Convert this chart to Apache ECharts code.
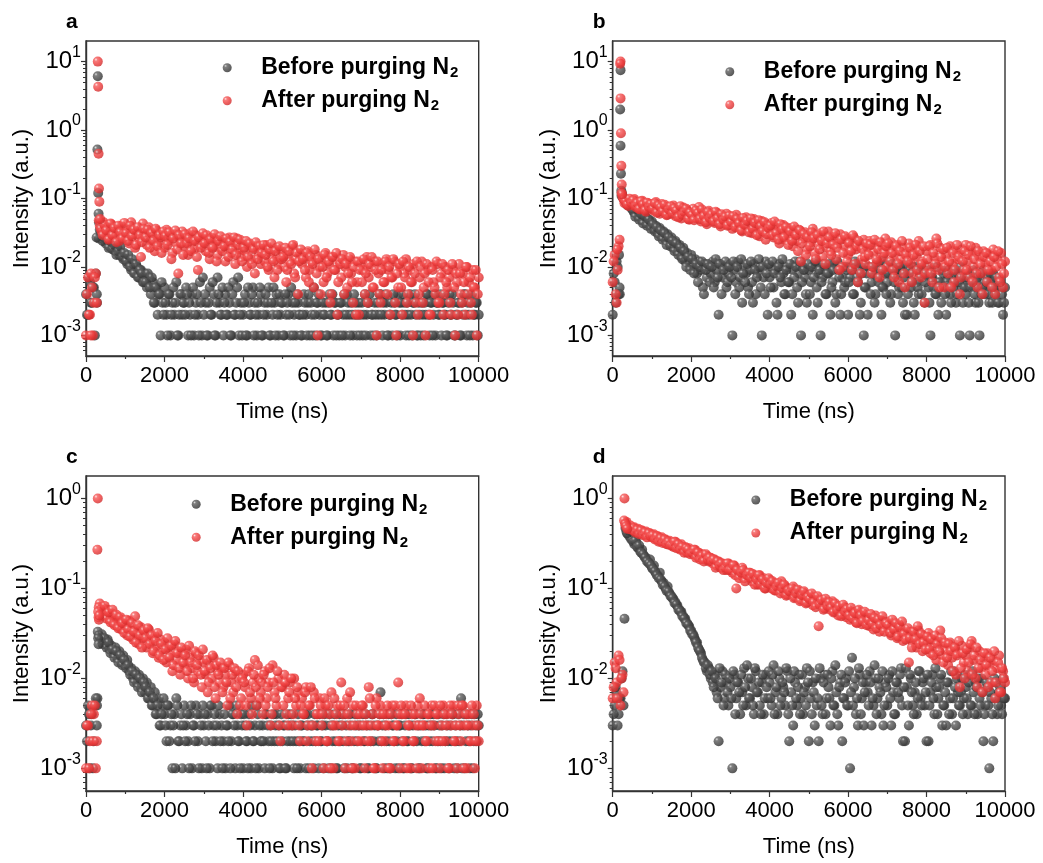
<!DOCTYPE html>
<html>
<head>
<meta charset="utf-8">
<title>PL decay before / after purging N2</title>
<style>
  html, body { margin: 0; padding: 0; background: #fff; }
  #chart { width: 1043px; height: 863px; }
</style>
</head>
<body>
<div id="chart"></div>
<script src="https://cdn.jsdelivr.net/npm/echarts@6.0.0/dist/echarts.min.js"></script>
<script>
// time channels (ns), shared by the four panels
const timeNs = [
  0, 50, 100, 150, 200, 250, 300, 350, 400, 450,
  500, 550, 600, 650, 700, 750, 800, 850, 900, 950,
  1000, 1050, 1100, 1150, 1200, 1250, 1300, 1350, 1400, 1450,
  1500, 1550, 1600, 1650, 1700, 1750, 1800, 1850, 1900, 1950,
  2000, 2050, 2100, 2150, 2200, 2250, 2300, 2350, 2400, 2450,
  2500, 2550, 2600, 2650, 2700, 2750, 2800, 2850, 2900, 2950,
  3000, 3050, 3100, 3150, 3200, 3250, 3300, 3350, 3400, 3450,
  3500, 3550, 3600, 3650, 3700, 3750, 3800, 3850, 3900, 3950,
  4000, 4050, 4100, 4150, 4200, 4250, 4300, 4350, 4400, 4450,
  4500, 4550, 4600, 4650, 4700, 4750, 4800, 4850, 4900, 4950,
  5000, 5050, 5100, 5150, 5200, 5250, 5300, 5350, 5400, 5450,
  5500, 5550, 5600, 5650, 5700, 5750, 5800, 5850, 5900, 5950,
  6000, 6050, 6100, 6150, 6200, 6250, 6300, 6350, 6400, 6450,
  6500, 6550, 6600, 6650, 6700, 6750, 6800, 6850, 6900, 6950,
  7000, 7050, 7100, 7150, 7200, 7250, 7300, 7350, 7400, 7450,
  7500, 7550, 7600, 7650, 7700, 7750, 7800, 7850, 7900, 7950,
  8000, 8050, 8100, 8150, 8200, 8250, 8300, 8350, 8400, 8450,
  8500, 8550, 8600, 8650, 8700, 8750, 8800, 8850, 8900, 8950,
  9000, 9050, 9100, 9150, 9200, 9250, 9300, 9350, 9400, 9450,
  9500, 9550, 9600, 9650, 9700, 9750, 9800, 9850, 9900, 9950,
  10000
];
// the channels in between
const timeNsMid = [
  25, 75, 125, 175, 225, 275, 325, 375, 425, 475,
  525, 575, 625, 675, 725, 775, 825, 875, 925, 975,
  1025, 1075, 1125, 1175, 1225, 1275, 1325, 1375, 1425, 1475,
  1525, 1575, 1625, 1675, 1725, 1775, 1825, 1875, 1925, 1975,
  2025, 2075, 2125, 2175, 2225, 2275, 2325, 2375, 2425, 2475,
  2525, 2575, 2625, 2675, 2725, 2775, 2825, 2875, 2925, 2975,
  3025, 3075, 3125, 3175, 3225, 3275, 3325, 3375, 3425, 3475,
  3525, 3575, 3625, 3675, 3725, 3775, 3825, 3875, 3925, 3975,
  4025, 4075, 4125, 4175, 4225, 4275, 4325, 4375, 4425, 4475,
  4525, 4575, 4625, 4675, 4725, 4775, 4825, 4875, 4925, 4975,
  5025, 5075, 5125, 5175, 5225, 5275, 5325, 5375, 5425, 5475,
  5525, 5575, 5625, 5675, 5725, 5775, 5825, 5875, 5925, 5975,
  6025, 6075, 6125, 6175, 6225, 6275, 6325, 6375, 6425, 6475,
  6525, 6575, 6625, 6675, 6725, 6775, 6825, 6875, 6925, 6975,
  7025, 7075, 7125, 7175, 7225, 7275, 7325, 7375, 7425, 7475,
  7525, 7575, 7625, 7675, 7725, 7775, 7825, 7875, 7925, 7975,
  8025, 8075, 8125, 8175, 8225, 8275, 8325, 8375, 8425, 8475,
  8525, 8575, 8625, 8675, 8725, 8775, 8825, 8875, 8925, 8975,
  9025, 9075, 9125, 9175, 9225, 9275, 9325, 9375, 9425, 9475,
  9525, 9575, 9625, 9675, 9725, 9775, 9825, 9875, 9925, 9975
];

// ---- panel a ----
const aBefore = [
  0.004, 0.002, 0.006, 0.003, 0.005, 0.008, 6.1, 0.035, 0.028, 0.030,
  0.022, 0.026, 0.020, 0.023, 0.018, 0.017, 0.019, 0.015, 0.016, 0.013,
  0.014, 0.011, 0.012, 0.009, 0.011, 0.008, 0.010, 0.007, 0.009, 0.006,
  0.008, 0.005, 0.007, 0.004, 0.006, 0.003, 0.005, 0.004, 0.001, 0.003,
  0.005, 0.002, 0.004, 0.001, 0.003, 0.002, 0.006, 0.001, 0.004, 0.002,
  0.003, 0.005, 0.001, 0.002, 0.004, 0.001, 0.003, 0.002, 0.006, 0.001,
  0.002, 0.003, 0.001, 0.005, 0.002, 0.004, 0.001, 0.007, 0.003, 0.002,
  0.001, 0.004, 0.002, 0.003, 0.001, 0.006, 0.002, 0.005, 0.001, 0.003,
  0.002, 0.004, 0.001, 0.003, 0.002, 0.005, 0.003, 0.001, 0.002, 0.004,
  0.001, 0.003, 0.002, 0.005, 0.001, 0.002, 0.003, 0.004, 0.001, 0.002,
  0.003, 0.001, 0.002, 0.004, 0.001, 0.003, 0.002, 0.001, 0.003, 0.002,
  0.001, 0.004, 0.002, 0.003, 0.001, 0.002, 0.005, 0.001, 0.003, 0.002,
  0.001, 0.002, 0.003, 0.001, 0.004, 0.002, 0.001, 0.003, 0.002, 0.001,
  0.003, 0.002, 0.001, 0.004, 0.002, 0.003, 0.001, 0.002, 0.001, 0.003,
  0.002, 0.001, 0.004, 0.002, 0.003, 0.001, 0.002, 0.003, 0.001, 0.002,
  0.004, 0.001, 0.002, 0.003, 0.001, 0.002, 0.001, 0.003, 0.002, 0.004,
  0.001, 0.002, 0.003, 0.001, 0.002, 0.004, 0.001, 0.003, 0.002, 0.001,
  0.002, 0.003, 0.001, 0.002, 0.004, 0.001, 0.003, 0.002, 0.001, 0.003,
  0.002, 0.001, 0.003, 0.002, 0.001, 0.004, 0.002, 0.003, 0.001, 0.002,
  0.003, 0.001, 0.002, 0.004, 0.001, 0.002, 0.003, 0.001, 0.002, 0.003,
  0.002
];
const aBeforeMid = [
  0.002, 0.007, 0.003, 0.005, 0.001, 0.004, 0.026, 0.032, 0.024, 0.027,
  0.025, 0.019, 0.024, 0.018, 0.021, 0.015, 0.017, 0.020, 0.014, 0.016,
  0.012, 0.015, 0.010, 0.013, 0.008, 0.011, 0.007, 0.009, 0.008, 0.006,
  0.006, 0.008, 0.005, 0.007, 0.003, 0.005, 0.002, 0.004, 0.006, 0.002,
  0.003, 0.001, 0.004, 0.002, 0.005, 0.003, 0.001, 0.002, 0.004, 0.003,
  0.002, 0.004, 0.003, 0.001, 0.005, 0.002, 0.004, 0.001, 0.003, 0.007,
  0.004, 0.001, 0.003, 0.002, 0.006, 0.001, 0.003, 0.004, 0.002, 0.005,
  0.003, 0.002, 0.005, 0.001, 0.004, 0.002, 0.003, 0.007, 0.002, 0.001,
  0.003, 0.001, 0.005, 0.002, 0.004, 0.001, 0.002, 0.003, 0.005, 0.001,
  0.002, 0.004, 0.003, 0.001, 0.003, 0.005, 0.001, 0.002, 0.004, 0.003,
  0.001, 0.004, 0.003, 0.002, 0.005, 0.001, 0.003, 0.004, 0.002, 0.001,
  0.002, 0.003, 0.001, 0.004, 0.003, 0.001, 0.002, 0.003, 0.004, 0.001,
  0.003, 0.002, 0.001, 0.003, 0.002, 0.004, 0.003, 0.001, 0.002, 0.003,
  0.001, 0.004, 0.002, 0.003, 0.001, 0.002, 0.004, 0.003, 0.002, 0.001,
  0.003, 0.002, 0.001, 0.003, 0.004, 0.002, 0.001, 0.002, 0.003, 0.004,
  0.002, 0.003, 0.004, 0.001, 0.002, 0.003, 0.004, 0.002, 0.001, 0.003,
  0.003, 0.004, 0.002, 0.003, 0.001, 0.002, 0.003, 0.004, 0.001, 0.003,
  0.001, 0.002, 0.003, 0.004, 0.002, 0.003, 0.001, 0.004, 0.003, 0.002,
  0.004, 0.003, 0.002, 0.001, 0.003, 0.002, 0.004, 0.001, 0.002, 0.003,
  0.001, 0.003, 0.004, 0.002, 0.003, 0.001, 0.004, 0.002, 0.003, 0.001
];
const aAfter = [
  0.001, 0.007, 0.002, 0.005, 0.003, 0.008, 10, 0.040, 0.033, 0.045,
  0.030, 0.038, 0.026, 0.042, 0.035, 0.028, 0.037, 0.024, 0.040, 0.031,
  0.027, 0.036, 0.022, 0.045, 0.030, 0.019, 0.033, 0.026, 0.014, 0.043,
  0.032, 0.021, 0.038, 0.025, 0.029, 0.017, 0.034, 0.023, 0.027, 0.031,
  0.019, 0.035, 0.024, 0.028, 0.016, 0.030, 0.022, 0.008, 0.026, 0.033,
  0.020, 0.027, 0.015, 0.031, 0.023, 0.018, 0.029, 0.009, 0.025, 0.021,
  0.028, 0.017, 0.024, 0.013, 0.027, 0.020, 0.026, 0.015, 0.022, 0.019,
  0.025, 0.012, 0.021, 0.027, 0.016, 0.023, 0.011, 0.026, 0.018, 0.014,
  0.022, 0.017, 0.010, 0.021, 0.013, 0.019, 0.008, 0.020, 0.015, 0.011,
  0.018, 0.012, 0.021, 0.009, 0.016, 0.013, 0.007, 0.019, 0.011, 0.014,
  0.017, 0.010, 0.006, 0.015, 0.012, 0.020, 0.008, 0.013, 0.004, 0.016,
  0.011, 0.014, 0.007, 0.017, 0.009, 0.012, 0.005, 0.015, 0.001, 0.010,
  0.013, 0.006, 0.016, 0.008, 0.011, 0.004, 0.014, 0.009, 0.002, 0.012,
  0.007, 0.015, 0.010, 0.005, 0.013, 0.008, 0.003, 0.012, 0.006, 0.002,
  0.011, 0.009, 0.004, 0.014, 0.007, 0.010, 0.005, 0.012, 0.001, 0.008,
  0.003, 0.011, 0.006, 0.013, 0.009, 0.002, 0.007, 0.012, 0.001, 0.005,
  0.010, 0.002, 0.008, 0.013, 0.004, 0.009, 0.006, 0.011, 0.003, 0.002,
  0.007, 0.012, 0.005, 0.001, 0.009, 0.002, 0.010, 0.006, 0.004, 0.011,
  0.003, 0.008, 0.002, 0.010, 0.005, 0.007, 0.002, 0.009, 0.001, 0.006,
  0.011, 0.004, 0.008, 0.002, 0.010, 0.006, 0.003, 0.009, 0.005, 0.001,
  0.007
];
const aAfterMid = [
  0.004, 0.002, 0.008, 0.001, 0.007, 0.003, 0.048, 0.036, 0.029, 0.041,
  0.034, 0.025, 0.043, 0.029, 0.037, 0.023, 0.040, 0.032, 0.026, 0.044,
  0.031, 0.024, 0.040, 0.028, 0.035, 0.021, 0.038, 0.029, 0.023, 0.036,
  0.027, 0.035, 0.019, 0.031, 0.024, 0.036, 0.020, 0.029, 0.016, 0.033,
  0.028, 0.021, 0.032, 0.013, 0.026, 0.034, 0.018, 0.029, 0.022, 0.015,
  0.030, 0.022, 0.026, 0.017, 0.033, 0.024, 0.014, 0.027, 0.019, 0.031,
  0.022, 0.029, 0.016, 0.025, 0.019, 0.030, 0.012, 0.024, 0.028, 0.017,
  0.020, 0.026, 0.014, 0.023, 0.018, 0.027, 0.015, 0.021, 0.025, 0.012,
  0.019, 0.024, 0.014, 0.022, 0.011, 0.018, 0.023, 0.013, 0.020, 0.016,
  0.021, 0.015, 0.010, 0.018, 0.022, 0.012, 0.017, 0.009, 0.020, 0.013,
  0.014, 0.019, 0.009, 0.017, 0.011, 0.021, 0.007, 0.016, 0.012, 0.018,
  0.013, 0.009, 0.016, 0.006, 0.014, 0.011, 0.018, 0.008, 0.013, 0.004,
  0.010, 0.015, 0.007, 0.012, 0.003, 0.014, 0.009, 0.016, 0.006, 0.011,
  0.013, 0.004, 0.011, 0.008, 0.014, 0.006, 0.010, 0.002, 0.012, 0.009,
  0.006, 0.013, 0.008, 0.003, 0.011, 0.014, 0.005, 0.009, 0.012, 0.004,
  0.009, 0.006, 0.012, 0.004, 0.010, 0.007, 0.013, 0.003, 0.008, 0.011,
  0.005, 0.012, 0.007, 0.003, 0.010, 0.006, 0.001, 0.008, 0.012, 0.004,
  0.010, 0.003, 0.008, 0.011, 0.006, 0.002, 0.009, 0.005, 0.012, 0.003,
  0.007, 0.011, 0.004, 0.006, 0.009, 0.003, 0.011, 0.005, 0.008, 0.002,
  0.008, 0.003, 0.006, 0.010, 0.004, 0.007, 0.002, 0.005, 0.009, 0.004
];
// extra channels around the excitation pulse, [t, I]
const aBeforeRise = [[280, 0.003], [290, 0.52], [310, 0.12], [320, 0.06], [330, 0.045], [270, 0.027]];
const aAfterRise = [[310, 4.3], [320, 0.45], [330, 0.14], [340, 0.09], [360, 0.05], [125, 0.001]];

// ---- panel b ----
const bBefore = [
  0.002, 0.006, 0.012, 0.004, 7.5, 0.11, 0.095, 0.085, 0.090, 0.078,
  0.070, 0.062, 0.074, 0.055, 0.060, 0.048, 0.057, 0.044, 0.050, 0.041,
  0.046, 0.036, 0.040, 0.031, 0.037, 0.028, 0.033, 0.025, 0.030, 0.022,
  0.027, 0.019, 0.024, 0.017, 0.021, 0.014, 0.019, 0.012, 0.016, 0.011,
  0.015, 0.010, 0.013, 0.008, 0.012, 0.009, 0.005, 0.011, 0.007, 0.010,
  0.008, 0.012, 0.006, 0.009, 0.002, 0.011, 0.007, 0.010, 0.005, 0.008,
  0.011, 0.001, 0.009, 0.006, 0.012, 0.007, 0.003, 0.010, 0.008, 0.005,
  0.009, 0.006, 0.011, 0.004, 0.008, 0.010, 0.001, 0.007, 0.012, 0.002,
  0.007, 0.010, 0.005, 0.009, 0.002, 0.011, 0.006, 0.008, 0.004, 0.010,
  0.006, 0.002, 0.009, 0.012, 0.005, 0.008, 0.001, 0.010, 0.007, 0.003,
  0.009, 0.006, 0.002, 0.011, 0.005, 0.008, 0.001, 0.007, 0.010, 0.004,
  0.008, 0.002, 0.006, 0.011, 0.004, 0.009, 0.002, 0.007, 0.005, 0.010,
  0.002, 0.007, 0.009, 0.004, 0.011, 0.006, 0.002, 0.008, 0.001, 0.005,
  0.002, 0.009, 0.006, 0.010, 0.004, 0.007, 0.012, 0.002, 0.005, 0.008,
  0.006, 0.010, 0.004, 0.008, 0.001, 0.007, 0.005, 0.009, 0.003, 0.002,
  0.002, 0.008, 0.005, 0.010, 0.002, 0.006, 0.004, 0.009, 0.007, 0.003,
  0.008, 0.005, 0.001, 0.007, 0.010, 0.004, 0.002, 0.006, 0.009, 0.005,
  0.002, 0.007, 0.004, 0.009, 0.006, 0.003, 0.008, 0.001, 0.005, 0.007,
  0.004, 0.006, 0.001, 0.008, 0.005, 0.003, 0.007, 0.001, 0.004, 0.009,
  0.005, 0.007, 0.003, 0.006, 0.008, 0.004, 0.006, 0.003, 0.005, 0.002,
  0.005
];
const bBeforeMid = [
  0.008, 0.003, 0.010, 0.005, 0.11, 0.10, 0.088, 0.080, 0.083, 0.072,
  0.066, 0.054, 0.070, 0.049, 0.059, 0.043, 0.055, 0.040, 0.049, 0.036,
  0.042, 0.033, 0.038, 0.028, 0.034, 0.025, 0.031, 0.021, 0.027, 0.020,
  0.024, 0.017, 0.022, 0.015, 0.019, 0.013, 0.017, 0.010, 0.014, 0.009,
  0.013, 0.008, 0.011, 0.006, 0.010, 0.012, 0.004, 0.009, 0.011, 0.006,
  0.010, 0.005, 0.013, 0.007, 0.011, 0.004, 0.009, 0.012, 0.006, 0.010,
  0.007, 0.012, 0.004, 0.010, 0.005, 0.013, 0.008, 0.006, 0.011, 0.004,
  0.012, 0.003, 0.009, 0.007, 0.013, 0.005, 0.010, 0.004, 0.008, 0.011,
  0.005, 0.012, 0.008, 0.003, 0.010, 0.007, 0.013, 0.004, 0.009, 0.006,
  0.011, 0.004, 0.007, 0.010, 0.003, 0.012, 0.006, 0.009, 0.004, 0.011,
  0.004, 0.010, 0.007, 0.012, 0.003, 0.009, 0.006, 0.011, 0.004, 0.008,
  0.011, 0.005, 0.009, 0.003, 0.012, 0.007, 0.004, 0.010, 0.006, 0.009,
  0.006, 0.010, 0.004, 0.012, 0.007, 0.009, 0.003, 0.011, 0.005, 0.008,
  0.010, 0.004, 0.008, 0.003, 0.011, 0.006, 0.009, 0.005, 0.012, 0.004,
  0.008, 0.003, 0.011, 0.006, 0.009, 0.004, 0.010, 0.005, 0.007, 0.011,
  0.004, 0.009, 0.006, 0.003, 0.010, 0.005, 0.008, 0.004, 0.011, 0.006,
  0.009, 0.003, 0.007, 0.005, 0.004, 0.010, 0.006, 0.003, 0.008, 0.004,
  0.006, 0.009, 0.003, 0.005, 0.008, 0.004, 0.006, 0.010, 0.003, 0.005,
  0.007, 0.003, 0.005, 0.009, 0.004, 0.006, 0.003, 0.008, 0.005, 0.004,
  0.006, 0.004, 0.008, 0.003, 0.005, 0.007, 0.003, 0.006, 0.004, 0.003
];
const bAfter = [
  0.006, 0.015, 0.003, 0.020, 10, 0.105, 0.085, 0.095, 0.078, 0.090,
  0.082, 0.098, 0.074, 0.088, 0.069, 0.093, 0.077, 0.064, 0.085, 0.072,
  0.080, 0.066, 0.089, 0.071, 0.060, 0.083, 0.068, 0.076, 0.058, 0.073,
  0.065, 0.079, 0.055, 0.070, 0.062, 0.051, 0.074, 0.059, 0.067, 0.049,
  0.063, 0.071, 0.052, 0.058, 0.075, 0.046, 0.061, 0.054, 0.042, 0.066,
  0.050, 0.057, 0.044, 0.062, 0.048, 0.039, 0.055, 0.047, 0.060, 0.041,
  0.052, 0.036, 0.046, 0.058, 0.040, 0.049, 0.033, 0.044, 0.053, 0.037,
  0.045, 0.031, 0.050, 0.038, 0.042, 0.028, 0.047, 0.035, 0.025, 0.041,
  0.036, 0.044, 0.027, 0.033, 0.039, 0.022, 0.030, 0.041, 0.025, 0.034,
  0.028, 0.037, 0.020, 0.031, 0.024, 0.035, 0.012, 0.026, 0.032, 0.018,
  0.029, 0.023, 0.036, 0.016, 0.027, 0.021, 0.031, 0.014, 0.025, 0.019,
  0.033, 0.017, 0.024, 0.028, 0.013, 0.022, 0.030, 0.010, 0.020, 0.026,
  0.015, 0.023, 0.009, 0.027, 0.018, 0.006, 0.021, 0.013, 0.025, 0.011,
  0.019, 0.024, 0.008, 0.016, 0.022, 0.012, 0.007, 0.020, 0.014, 0.026,
  0.010, 0.018, 0.023, 0.009, 0.015, 0.021, 0.006, 0.013, 0.019, 0.005,
  0.016, 0.022, 0.011, 0.008, 0.018, 0.014, 0.024, 0.007, 0.012, 0.003,
  0.017, 0.010, 0.021, 0.006, 0.014, 0.026, 0.009, 0.019, 0.012, 0.005,
  0.015, 0.008, 0.020, 0.011, 0.006, 0.017, 0.013, 0.004, 0.018, 0.009,
  0.021, 0.012, 0.007, 0.016, 0.010, 0.019, 0.005, 0.014, 0.008, 0.017,
  0.011, 0.006, 0.015, 0.009, 0.018, 0.004, 0.013, 0.007, 0.016, 0.005,
  0.012
];
const bAfterMid = [
  0.012, 0.004, 0.009, 0.025, 0.12, 0.098, 0.091, 0.081, 0.099, 0.086,
  0.094, 0.078, 0.086, 0.070, 0.091, 0.081, 0.067, 0.087, 0.075, 0.083,
  0.070, 0.085, 0.062, 0.079, 0.074, 0.064, 0.081, 0.057, 0.069, 0.077,
  0.060, 0.072, 0.066, 0.053, 0.077, 0.058, 0.064, 0.071, 0.050, 0.062,
  0.057, 0.048, 0.067, 0.061, 0.050, 0.069, 0.055, 0.045, 0.063, 0.052,
  0.058, 0.046, 0.064, 0.051, 0.042, 0.059, 0.049, 0.054, 0.040, 0.056,
  0.045, 0.055, 0.038, 0.050, 0.043, 0.034, 0.052, 0.041, 0.047, 0.032,
  0.051, 0.036, 0.044, 0.029, 0.048, 0.039, 0.033, 0.045, 0.030, 0.037,
  0.040, 0.029, 0.046, 0.031, 0.025, 0.042, 0.035, 0.027, 0.038, 0.021,
  0.033, 0.024, 0.039, 0.029, 0.017, 0.034, 0.022, 0.030, 0.015, 0.027,
  0.020, 0.032, 0.026, 0.013, 0.029, 0.018, 0.024, 0.033, 0.011, 0.022,
  0.027, 0.015, 0.021, 0.031, 0.019, 0.009, 0.025, 0.016, 0.028, 0.012,
  0.022, 0.017, 0.029, 0.011, 0.020, 0.024, 0.008, 0.018, 0.014, 0.022,
  0.015, 0.021, 0.010, 0.025, 0.013, 0.018, 0.023, 0.009, 0.016, 0.020,
  0.022, 0.012, 0.016, 0.007, 0.020, 0.011, 0.017, 0.024, 0.008, 0.015,
  0.012, 0.019, 0.006, 0.015, 0.021, 0.009, 0.017, 0.011, 0.020, 0.008,
  0.013, 0.020, 0.008, 0.016, 0.011, 0.022, 0.005, 0.014, 0.018, 0.010,
  0.019, 0.012, 0.005, 0.016, 0.009, 0.021, 0.014, 0.007, 0.012, 0.017,
  0.009, 0.015, 0.020, 0.006, 0.013, 0.008, 0.017, 0.011, 0.004, 0.014,
  0.016, 0.009, 0.012, 0.005, 0.014, 0.010, 0.017, 0.006, 0.011, 0.008
];
const bBeforeRise = [[190, 2.0], [200, 0.59], [210, 0.23], [220, 0.13], [230, 0.12], [180, 0.004], [160, 0.015]];
const bAfterRise = [[190, 9.3], [200, 2.9], [210, 0.9], [220, 0.3], [230, 0.16], [240, 0.115], [120, 0.018]];

// ---- panel c ----
const cBefore = [
  0.003, 0.005, 0.001, 0.004, 0.002, 0.006, 0.033, 0.029, 0.031, 0.026,
  0.024, 0.027, 0.021, 0.023, 0.019, 0.022, 0.017, 0.020, 0.015, 0.018,
  0.014, 0.016, 0.012, 0.013, 0.010, 0.012, 0.009, 0.011, 0.008, 0.010,
  0.007, 0.009, 0.006, 0.008, 0.005, 0.007, 0.004, 0.006, 0.003, 0.005,
  0.004, 0.002, 0.005, 0.003, 0.001, 0.004, 0.006, 0.002, 0.003, 0.001,
  0.005, 0.003, 0.002, 0.004, 0.001, 0.003, 0.005, 0.002, 0.004, 0.001,
  0.003, 0.002, 0.004, 0.001, 0.005, 0.003, 0.002, 0.001, 0.004, 0.003,
  0.002, 0.001, 0.003, 0.005, 0.002, 0.004, 0.001, 0.003, 0.002, 0.004,
  0.001, 0.003, 0.002, 0.004, 0.001, 0.002, 0.003, 0.005, 0.001, 0.002,
  0.003, 0.001, 0.004, 0.002, 0.003, 0.001, 0.002, 0.004, 0.003, 0.001,
  0.002, 0.003, 0.001, 0.004, 0.002, 0.003, 0.001, 0.002, 0.004, 0.001,
  0.003, 0.002, 0.001, 0.004, 0.002, 0.003, 0.001, 0.002, 0.003, 0.004,
  0.002, 0.001, 0.003, 0.002, 0.004, 0.001, 0.003, 0.002, 0.001, 0.004,
  0.003, 0.002, 0.004, 0.001, 0.002, 0.003, 0.001, 0.004, 0.002, 0.003,
  0.001, 0.004, 0.002, 0.003, 0.001, 0.002, 0.004, 0.003, 0.001, 0.002,
  0.007, 0.003, 0.001, 0.002, 0.004, 0.001, 0.003, 0.002, 0.004, 0.001,
  0.003, 0.002, 0.001, 0.004, 0.002, 0.003, 0.001, 0.002, 0.004, 0.003,
  0.001, 0.002, 0.004, 0.003, 0.001, 0.002, 0.003, 0.004, 0.001, 0.002,
  0.003, 0.001, 0.004, 0.002, 0.003, 0.001, 0.002, 0.004, 0.003, 0.001,
  0.002, 0.006, 0.003, 0.001, 0.004, 0.002, 0.003, 0.001, 0.004, 0.002,
  0.003
];
const cBeforeMid = [
  0.002, 0.004, 0.003, 0.001, 0.005, 0.003, 0.030, 0.027, 0.024, 0.028,
  0.022, 0.025, 0.019, 0.021, 0.017, 0.020, 0.015, 0.018, 0.014, 0.016,
  0.013, 0.014, 0.011, 0.012, 0.009, 0.011, 0.008, 0.010, 0.007, 0.009,
  0.008, 0.006, 0.007, 0.005, 0.006, 0.004, 0.005, 0.003, 0.004, 0.006,
  0.003, 0.005, 0.002, 0.004, 0.003, 0.001, 0.005, 0.002, 0.004, 0.003,
  0.002, 0.004, 0.001, 0.005, 0.003, 0.002, 0.004, 0.001, 0.003, 0.005,
  0.004, 0.001, 0.003, 0.005, 0.002, 0.004, 0.003, 0.005, 0.002, 0.001,
  0.004, 0.003, 0.002, 0.001, 0.004, 0.003, 0.005, 0.002, 0.001, 0.003,
  0.004, 0.002, 0.001, 0.003, 0.005, 0.002, 0.001, 0.004, 0.003, 0.002,
  0.002, 0.004, 0.003, 0.001, 0.002, 0.004, 0.003, 0.002, 0.001, 0.004,
  0.003, 0.001, 0.002, 0.003, 0.004, 0.002, 0.003, 0.001, 0.002, 0.003,
  0.002, 0.004, 0.003, 0.001, 0.003, 0.002, 0.004, 0.003, 0.001, 0.002,
  0.003, 0.004, 0.002, 0.001, 0.003, 0.002, 0.004, 0.001, 0.003, 0.002,
  0.004, 0.001, 0.003, 0.002, 0.004, 0.001, 0.002, 0.003, 0.004, 0.001,
  0.003, 0.002, 0.004, 0.001, 0.003, 0.004, 0.002, 0.001, 0.003, 0.004,
  0.002, 0.004, 0.003, 0.001, 0.002, 0.004, 0.003, 0.001, 0.002, 0.003,
  0.004, 0.001, 0.003, 0.002, 0.004, 0.001, 0.003, 0.004, 0.002, 0.001,
  0.003, 0.004, 0.002, 0.001, 0.003, 0.004, 0.002, 0.003, 0.001, 0.004,
  0.002, 0.003, 0.001, 0.004, 0.002, 0.003, 0.004, 0.001, 0.002, 0.004,
  0.003, 0.001, 0.004, 0.002, 0.003, 0.001, 0.004, 0.002, 0.003, 0.004
];
const cAfter = [
  0.001, 0.003, 0.002, 0.005, 0.004, 0.001, 1.0, 0.068, 0.055, 0.060,
  0.050, 0.058, 0.045, 0.053, 0.041, 0.049, 0.038, 0.046, 0.035, 0.043,
  0.039, 0.030, 0.044, 0.034, 0.027, 0.049, 0.031, 0.024, 0.037, 0.028,
  0.033, 0.022, 0.035, 0.026, 0.019, 0.030, 0.023, 0.017, 0.027, 0.021,
  0.025, 0.015, 0.022, 0.018, 0.012, 0.024, 0.016, 0.020, 0.011, 0.019,
  0.014, 0.021, 0.010, 0.017, 0.013, 0.009, 0.019, 0.012, 0.016, 0.008,
  0.015, 0.011, 0.007, 0.014, 0.010, 0.017, 0.006, 0.012, 0.009, 0.013,
  0.008, 0.011, 0.005, 0.014, 0.009, 0.007, 0.012, 0.004, 0.010, 0.006,
  0.011, 0.008, 0.003, 0.013, 0.006, 0.009, 0.016, 0.005, 0.010, 0.007,
  0.004, 0.012, 0.006, 0.009, 0.003, 0.014, 0.007, 0.005, 0.010, 0.002,
  0.008, 0.011, 0.004, 0.006, 0.009, 0.003, 0.010, 0.005, 0.007, 0.002,
  0.006, 0.004, 0.008, 0.003, 0.005, 0.001, 0.007, 0.002, 0.004, 0.006,
  0.003, 0.001, 0.005, 0.002, 0.004, 0.007, 0.001, 0.003, 0.005, 0.002,
  0.009, 0.004, 0.001, 0.006, 0.003, 0.002, 0.005, 0.001, 0.004, 0.003,
  0.002, 0.005, 0.001, 0.003, 0.008, 0.002, 0.004, 0.001, 0.006, 0.003,
  0.005, 0.001, 0.002, 0.004, 0.003, 0.001, 0.005, 0.002, 0.003, 0.009,
  0.001, 0.004, 0.002, 0.005, 0.003, 0.001, 0.004, 0.002, 0.003, 0.005,
  0.006, 0.001, 0.003, 0.002, 0.004, 0.001, 0.005, 0.003, 0.002, 0.004,
  0.001, 0.003, 0.005, 0.002, 0.004, 0.001, 0.003, 0.005, 0.002, 0.001,
  0.004, 0.002, 0.005, 0.003, 0.001, 0.004, 0.002, 0.003, 0.001, 0.005,
  0.002
];
const cAfterMid = [
  0.003, 0.001, 0.004, 0.002, 0.005, 0.002, 0.062, 0.058, 0.050, 0.064,
  0.046, 0.054, 0.042, 0.058, 0.039, 0.051, 0.036, 0.048, 0.041, 0.032,
  0.045, 0.035, 0.029, 0.041, 0.033, 0.025, 0.039, 0.030, 0.022, 0.034,
  0.028, 0.036, 0.024, 0.030, 0.020, 0.026, 0.032, 0.018, 0.024, 0.016,
  0.021, 0.028, 0.017, 0.023, 0.014, 0.026, 0.019, 0.013, 0.022, 0.015,
  0.018, 0.012, 0.023, 0.015, 0.010, 0.020, 0.014, 0.018, 0.011, 0.021,
  0.012, 0.016, 0.009, 0.013, 0.018, 0.008, 0.014, 0.011, 0.015, 0.007,
  0.013, 0.009, 0.015, 0.006, 0.011, 0.013, 0.008, 0.012, 0.005, 0.010,
  0.009, 0.005, 0.012, 0.007, 0.004, 0.011, 0.008, 0.014, 0.006, 0.009,
  0.011, 0.005, 0.008, 0.013, 0.004, 0.009, 0.006, 0.012, 0.003, 0.008,
  0.005, 0.009, 0.003, 0.007, 0.010, 0.004, 0.006, 0.008, 0.003, 0.005,
  0.004, 0.007, 0.002, 0.005, 0.008, 0.003, 0.006, 0.004, 0.002, 0.005,
  0.004, 0.006, 0.002, 0.005, 0.001, 0.003, 0.006, 0.004, 0.002, 0.005,
  0.003, 0.005, 0.002, 0.004, 0.007, 0.001, 0.003, 0.005, 0.002, 0.004,
  0.005, 0.003, 0.004, 0.002, 0.006, 0.003, 0.001, 0.005, 0.003, 0.004,
  0.002, 0.004, 0.003, 0.005, 0.001, 0.004, 0.002, 0.005, 0.003, 0.004,
  0.005, 0.002, 0.004, 0.001, 0.003, 0.005, 0.002, 0.004, 0.001, 0.003,
  0.004, 0.003, 0.005, 0.002, 0.004, 0.003, 0.001, 0.005, 0.004, 0.002,
  0.005, 0.002, 0.004, 0.003, 0.001, 0.005, 0.004, 0.002, 0.003, 0.005,
  0.003, 0.005, 0.001, 0.004, 0.003, 0.002, 0.005, 0.004, 0.002, 0.003
];
const cBeforeRise = [[290, 0.006], [310, 0.028], [320, 0.024], [280, 0.005]];
const cAfterRise = [[290, 0.27], [310, 0.055], [320, 0.048], [330, 0.045], [340, 0.05]];

// ---- panel d ----
const dBefore = [
  0.003, 0.005, 0.007, 0.004, 0.006, 0.012, 0.046, 0.43, 0.40, 0.37,
  0.35, 0.31, 0.33, 0.28, 0.26, 0.27, 0.23, 0.22, 0.20, 0.21,
  0.17, 0.18, 0.15, 0.14, 0.15, 0.12, 0.115, 0.10, 0.105, 0.088,
  0.082, 0.076, 0.070, 0.064, 0.058, 0.055, 0.049, 0.046, 0.041, 0.038,
  0.034, 0.031, 0.027, 0.025, 0.021, 0.019, 0.016, 0.015, 0.012, 0.013,
  0.010, 0.009, 0.011, 0.007, 0.002, 0.008, 0.012, 0.006, 0.009, 0.005,
  0.008, 0.001, 0.011, 0.006, 0.009, 0.004, 0.007, 0.013, 0.005, 0.010,
  0.006, 0.008, 0.004, 0.012, 0.007, 0.005, 0.009, 0.004, 0.011, 0.006,
  0.009, 0.005, 0.014, 0.007, 0.004, 0.010, 0.006, 0.008, 0.005, 0.012,
  0.002, 0.007, 0.003, 0.009, 0.005, 0.011, 0.006, 0.004, 0.008, 0.013,
  0.002, 0.006, 0.009, 0.003, 0.005, 0.002, 0.010, 0.004, 0.011, 0.006,
  0.008, 0.003, 0.012, 0.005, 0.007, 0.003, 0.009, 0.002, 0.006, 0.010,
  0.005, 0.001, 0.017, 0.008, 0.004, 0.003, 0.011, 0.006, 0.003, 0.009,
  0.007, 0.012, 0.003, 0.005, 0.010, 0.006, 0.008, 0.004, 0.003, 0.009,
  0.005, 0.011, 0.003, 0.007, 0.004, 0.009, 0.006, 0.013, 0.002, 0.002,
  0.008, 0.003, 0.010, 0.005, 0.007, 0.004, 0.012, 0.006, 0.009, 0.005,
  0.002, 0.002, 0.007, 0.011, 0.004, 0.008, 0.006, 0.010, 0.003, 0.005,
  0.003, 0.009, 0.006, 0.004, 0.012, 0.003, 0.007, 0.005, 0.010, 0.006,
  0.008, 0.004, 0.011, 0.005, 0.007, 0.009, 0.004, 0.006, 0.010, 0.002,
  0.005, 0.008, 0.001, 0.006, 0.002, 0.009, 0.004, 0.007, 0.005, 0.010,
  0.006
];
const dBeforeMid = [
  0.004, 0.008, 0.003, 0.006, 0.010, 0.005, 0.47, 0.41, 0.38, 0.35,
  0.33, 0.34, 0.29, 0.30, 0.25, 0.24, 0.22, 0.20, 0.19, 0.18,
  0.165, 0.155, 0.14, 0.13, 0.125, 0.11, 0.105, 0.094, 0.092, 0.082,
  0.078, 0.069, 0.066, 0.058, 0.055, 0.049, 0.046, 0.041, 0.039, 0.034,
  0.031, 0.029, 0.025, 0.022, 0.020, 0.017, 0.015, 0.013, 0.014, 0.011,
  0.012, 0.008, 0.010, 0.006, 0.013, 0.009, 0.005, 0.011, 0.007, 0.010,
  0.006, 0.012, 0.004, 0.009, 0.007, 0.011, 0.005, 0.008, 0.014, 0.006,
  0.010, 0.005, 0.013, 0.007, 0.009, 0.004, 0.011, 0.006, 0.008, 0.012,
  0.006, 0.011, 0.004, 0.008, 0.012, 0.005, 0.009, 0.007, 0.013, 0.004,
  0.010, 0.005, 0.012, 0.006, 0.008, 0.004, 0.011, 0.007, 0.005, 0.009,
  0.012, 0.004, 0.007, 0.010, 0.006, 0.013, 0.005, 0.009, 0.004, 0.011,
  0.006, 0.010, 0.005, 0.014, 0.004, 0.008, 0.011, 0.006, 0.009, 0.005,
  0.012, 0.007, 0.005, 0.010, 0.006, 0.013, 0.004, 0.009, 0.007, 0.011,
  0.005, 0.009, 0.006, 0.014, 0.004, 0.010, 0.007, 0.012, 0.005, 0.008,
  0.010, 0.006, 0.012, 0.004, 0.009, 0.007, 0.011, 0.005, 0.008, 0.013,
  0.005, 0.011, 0.007, 0.004, 0.009, 0.006, 0.012, 0.005, 0.010, 0.007,
  0.011, 0.005, 0.009, 0.006, 0.013, 0.004, 0.008, 0.011, 0.005, 0.007,
  0.009, 0.004, 0.012, 0.006, 0.008, 0.010, 0.005, 0.007, 0.004, 0.011,
  0.006, 0.009, 0.005, 0.012, 0.004, 0.008, 0.010, 0.005, 0.007, 0.004,
  0.009, 0.005, 0.007, 0.004, 0.010, 0.006, 0.005, 0.008, 0.004, 0.006
];
const dAfter = [
  0.006, 0.015, 0.009, 0.018, 0.005, 0.011, 1.0, 0.55, 0.47, 0.50,
  0.45, 0.48, 0.43, 0.46, 0.42, 0.44, 0.40, 0.43, 0.39, 0.41,
  0.37, 0.40, 0.36, 0.38, 0.34, 0.37, 0.33, 0.35, 0.31, 0.34,
  0.32, 0.29, 0.33, 0.30, 0.28, 0.31, 0.27, 0.29, 0.25, 0.28,
  0.26, 0.24, 0.27, 0.23, 0.25, 0.22, 0.24, 0.21, 0.23, 0.20,
  0.22, 0.19, 0.21, 0.18, 0.20, 0.17, 0.19, 0.18, 0.16, 0.19,
  0.17, 0.15, 0.18, 0.10, 0.16, 0.14, 0.17, 0.13, 0.15, 0.14,
  0.15, 0.12, 0.14, 0.13, 0.11, 0.14, 0.12, 0.13, 0.10, 0.12,
  0.125, 0.10, 0.115, 0.095, 0.11, 0.10, 0.12, 0.09, 0.105, 0.085,
  0.10, 0.09, 0.105, 0.08, 0.095, 0.085, 0.075, 0.09, 0.08, 0.07,
  0.085, 0.078, 0.065, 0.08, 0.072, 0.038, 0.068, 0.075, 0.06, 0.07,
  0.066, 0.058, 0.072, 0.055, 0.064, 0.05, 0.06, 0.052, 0.062, 0.048,
  0.058, 0.045, 0.055, 0.05, 0.042, 0.056, 0.047, 0.04, 0.052, 0.044,
  0.048, 0.038, 0.046, 0.035, 0.05, 0.041, 0.033, 0.044, 0.037, 0.042,
  0.036, 0.043, 0.03, 0.039, 0.034, 0.028, 0.04, 0.032, 0.026, 0.035,
  0.031, 0.015, 0.033, 0.025, 0.029, 0.022, 0.034, 0.027, 0.02, 0.03,
  0.024, 0.032, 0.019, 0.027, 0.022, 0.016, 0.026, 0.034, 0.018, 0.023,
  0.02, 0.014, 0.025, 0.017, 0.021, 0.011, 0.019, 0.008, 0.023, 0.015,
  0.018, 0.012, 0.022, 0.026, 0.016, 0.01, 0.008, 0.02, 0.013, 0.017,
  0.011, 0.019, 0.014, 0.009, 0.016, 0.006, 0.013, 0.018, 0.007, 0.012,
  0.009
];
const dAfterMid = [
  0.008, 0.013, 0.006, 0.016, 0.010, 0.007, 0.53, 0.49, 0.46, 0.45,
  0.47, 0.42, 0.45, 0.40, 0.44, 0.39, 0.42, 0.37, 0.41, 0.38,
  0.39, 0.35, 0.38, 0.33, 0.36, 0.32, 0.35, 0.31, 0.33, 0.30,
  0.30, 0.33, 0.28, 0.31, 0.27, 0.29, 0.25, 0.28, 0.27, 0.24,
  0.25, 0.27, 0.22, 0.25, 0.21, 0.23, 0.20, 0.24, 0.21, 0.22,
  0.20, 0.21, 0.17, 0.20, 0.18, 0.19, 0.16, 0.17, 0.19, 0.16,
  0.16, 0.18, 0.14, 0.16, 0.13, 0.15, 0.16, 0.12, 0.14, 0.15,
  0.13, 0.145, 0.11, 0.125, 0.14, 0.11, 0.125, 0.10, 0.115, 0.13,
  0.11, 0.12, 0.095, 0.105, 0.115, 0.088, 0.10, 0.11, 0.083, 0.095,
  0.092, 0.10, 0.078, 0.088, 0.097, 0.072, 0.084, 0.093, 0.068, 0.08,
  0.076, 0.088, 0.07, 0.062, 0.082, 0.066, 0.074, 0.058, 0.077, 0.064,
  0.07, 0.061, 0.054, 0.068, 0.057, 0.063, 0.049, 0.066, 0.055, 0.059,
  0.05, 0.061, 0.046, 0.053, 0.041, 0.058, 0.05, 0.043, 0.055, 0.039,
  0.044, 0.052, 0.04, 0.047, 0.036, 0.045, 0.039, 0.049, 0.033, 0.041,
  0.039, 0.032, 0.045, 0.035, 0.041, 0.029, 0.037, 0.043, 0.031, 0.027,
  0.036, 0.028, 0.022, 0.033, 0.027, 0.038, 0.024, 0.031, 0.025, 0.021,
  0.029, 0.021, 0.027, 0.018, 0.03, 0.024, 0.02, 0.028, 0.015, 0.025,
  0.017, 0.024, 0.02, 0.012, 0.022, 0.018, 0.026, 0.013, 0.019, 0.01,
  0.021, 0.015, 0.024, 0.011, 0.018, 0.022, 0.013, 0.016, 0.007, 0.019,
  0.014, 0.008, 0.017, 0.012, 0.02, 0.009, 0.015, 0.007, 0.013, 0.01
];
const dBeforeRise = [[330, 0.5], [370, 0.41], [420, 0.44]];
const dAfterRise = [[290, 0.57], [320, 0.52], [340, 0.49], [370, 0.46]];

// axis ticks
const decadeTicks = [0.001, 0.01, 0.1, 1, 10];
const minorTicks = [
  0.0006, 0.0007, 0.0008, 0.0009,
  0.002, 0.003, 0.004, 0.005, 0.006, 0.007, 0.008, 0.009,
  0.02, 0.03, 0.04, 0.05, 0.06, 0.07, 0.08, 0.09,
  0.2, 0.3, 0.4, 0.5, 0.6, 0.7, 0.8, 0.9,
  2, 3, 4, 5, 6, 7, 8, 9
];
const nameBefore = 'Before purging N2';
const nameAfter = 'After purging N2';

const FONT = '"Liberation Sans", Arial, Helvetica, sans-serif';
const AXIS_COLOR = '#333';

const chart = echarts.init(document.getElementById('chart'), null, { renderer: 'canvas' });

// sphere-like markers
const darkBall = new echarts.graphic.RadialGradient(0.32, 0.3, 0.72, [
  { offset: 0, color: '#d4d4d4' },
  { offset: 0.22, color: '#606060' },
  { offset: 0.6, color: '#474747' },
  { offset: 1, color: '#2f2f2f' }
]);
const redBall = new echarts.graphic.RadialGradient(0.32, 0.3, 0.72, [
  { offset: 0, color: '#ffe4e4' },
  { offset: 0.22, color: '#f45c5c' },
  { offset: 0.6, color: '#ee3b3b' },
  { offset: 1, color: '#d02c2c' }
]);

function toPoints(values, midValues, rise) {
  const main = timeNs.map((t, i) => [t, values[i]]);
  const mid = timeNsMid.map((t, i) => [t, midValues[i]]);
  return main.concat(mid, rise);
}

// panel layout (px)
const panels = [
  { key: 'a', left: 86, top: 41, width: 392.7, yMin: 5e-4, yMax: 20,
    before: [aBefore, aBeforeMid, aBeforeRise], after: [aAfter, aAfterMid, aAfterRise], legend: [217.7, 49.7] },
  { key: 'b', left: 612.7, top: 41, width: 392.3, yMin: 5e-4, yMax: 20,
    before: [bBefore, bBeforeMid, bBeforeRise], after: [bAfter, bAfterMid, bAfterRise], legend: [720.3, 53.7] },
  { key: 'c', left: 86, top: 476, width: 392.7, yMin: 5.6e-4, yMax: 1.78,
    before: [cBefore, cBeforeMid, cBeforeRise], after: [cAfter, cAfterMid, cAfterRise], legend: [186.7, 486.3] },
  { key: 'd', left: 612.7, top: 476, width: 392.3, yMin: 5.6e-4, yMax: 1.78,
    before: [dBefore, dBeforeMid, dBeforeRise], after: [dAfter, dAfterMid, dAfterRise], legend: [746.3, 482] }
];

const grid = [], xAxis = [], yAxis = [], series = [], legend = [], title = [];

panels.forEach((p, i) => {
  grid.push({
    left: p.left, top: p.top, width: p.width, height: 315,
    show: true, borderColor: AXIS_COLOR, borderWidth: 1.4, backgroundColor: 'transparent'
  });

  title.push({
    text: p.key, left: p.left - 20, top: p.top - 29, padding: 0,
    textStyle: { fontFamily: FONT, fontSize: 21, fontWeight: 'bold', color: '#000' }
  });

  xAxis.push({
    type: 'value', gridIndex: i, min: 0, max: 10000, interval: 2000,
    name: 'Time (ns)', nameLocation: 'middle', nameGap: 45,
    nameTextStyle: { fontFamily: FONT, fontSize: 22, color: '#000' },
    axisLine: { show: true, lineStyle: { color: AXIS_COLOR, width: 1.4 } },
    axisTick: { show: true, length: 6, lineStyle: { color: AXIS_COLOR, width: 1.2 } },
    minorTick: { show: true, splitNumber: 2, length: 3, lineStyle: { color: AXIS_COLOR, width: 1.2 } },
    axisLabel: { fontFamily: FONT, fontSize: 22, color: '#000', margin: 9, formatter: v => String(v) },
    splitLine: { show: false }
  });

  // main log axis with decade labels
  yAxis.push({
    type: 'log', logBase: 10, gridIndex: i, position: 'left',
    min: p.yMin, max: p.yMax,
    name: 'Intensity (a.u.)', nameLocation: 'middle', nameGap: 53,
    nameTextStyle: { fontFamily: FONT, fontSize: 22, color: '#000' },
    axisLine: { show: true, lineStyle: { color: AXIS_COLOR, width: 1.4 } },
    axisTick: { show: true, length: 5, customValues: decadeTicks, lineStyle: { color: AXIS_COLOR, width: 1.2 } },
    axisLabel: {
      customValues: decadeTicks,
      margin: 5,
      formatter: v => '{b|10}{s|' + Math.round(Math.log10(v)) + '}',
      rich: {
        b: { fontFamily: FONT, fontSize: 24, color: '#000', lineHeight: 34 },
        s: { fontFamily: FONT, fontSize: 16, color: '#000', lineHeight: 16, verticalAlign: 'top' }
      }
    },
    splitLine: { show: false }
  });
  // second log axis only for the 2..9 minor ticks
  yAxis.push({
    type: 'log', logBase: 10, gridIndex: i, position: 'left',
    min: p.yMin, max: p.yMax,
    axisLine: { show: false },
    axisTick: { show: true, length: 3, customValues: minorTicks, lineStyle: { color: AXIS_COLOR, width: 1 } },
    axisLabel: { show: false },
    splitLine: { show: false }
  });

  series.push({
    name: nameBefore, type: 'scatter', xAxisIndex: i, yAxisIndex: i * 2,
    symbol: 'circle', symbolSize: 10,
    itemStyle: { color: darkBall },
    emphasis: { disabled: true },
    data: toPoints(p.before[0], p.before[1], p.before[2])
  });
  series.push({
    name: nameAfter, type: 'scatter', xAxisIndex: i, yAxisIndex: i * 2,
    symbol: 'circle', symbolSize: 10,
    itemStyle: { color: redBall },
    emphasis: { disabled: true },
    data: toPoints(p.after[0], p.after[1], p.after[2])
  });

  legend.push({
    left: p.legend[0], top: p.legend[1], orient: 'vertical',
    data: [nameBefore, nameAfter],
    icon: 'circle', itemWidth: 58, itemHeight: 9, itemGap: 7,
    selectedMode: false,
    formatter: name => name.replace('N2', 'N{sub|2}'),
    textStyle: {
      fontFamily: FONT, fontSize: 23, fontWeight: 'bold', color: '#000', lineHeight: 26,
      rich: {
        sub: { fontFamily: FONT, fontSize: 15, fontWeight: 'bold', color: '#000', lineHeight: 15, verticalAlign: 'bottom', padding: [0, 0, 0, 1] }
      }
    }
  });
});

chart.setOption({
  backgroundColor: '#ffffff',
  animation: false,
  title, grid, xAxis, yAxis, series, legend
});

window.addEventListener('resize', () => chart.resize());
</script>
</body>
</html>
